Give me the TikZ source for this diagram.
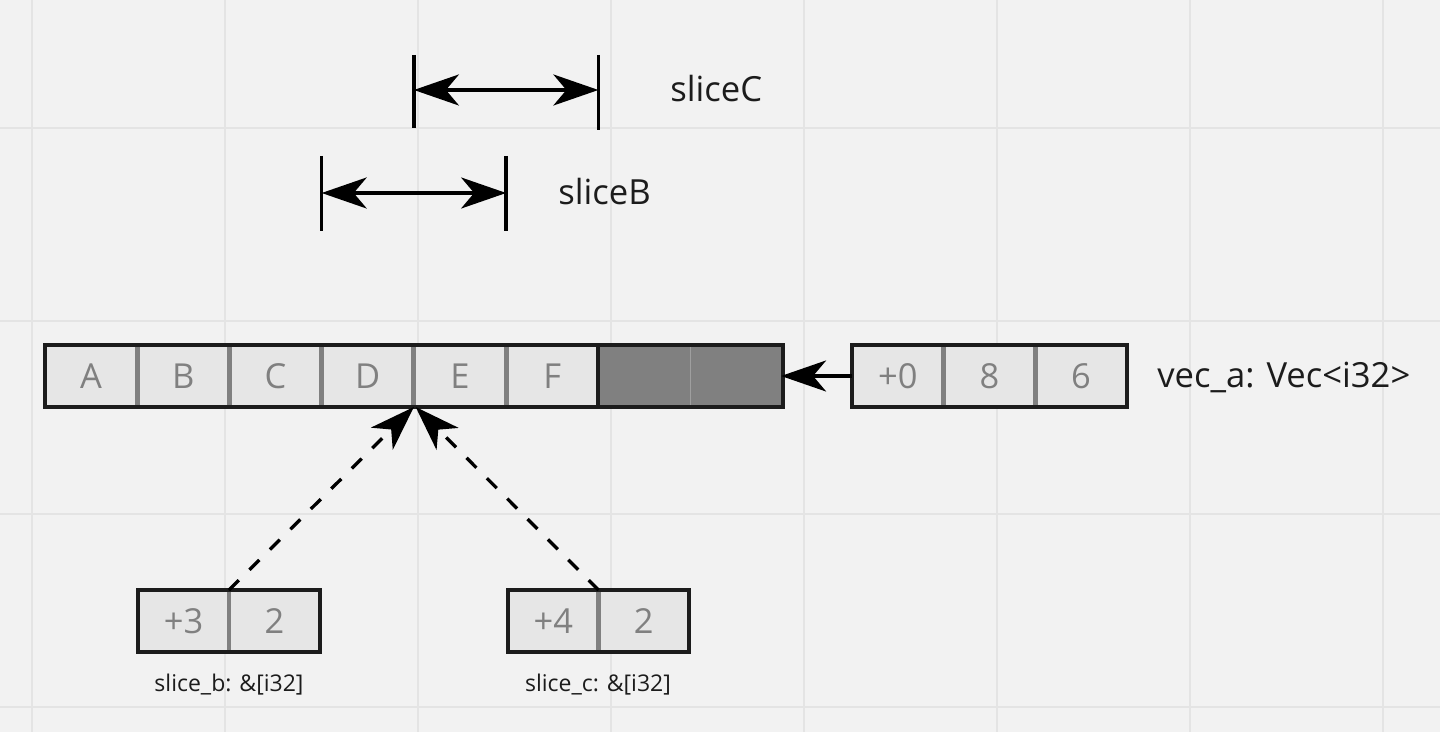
\documentclass[tikz,border=0pt]{standalone}
\usepackage{fontspec}
\setmainfont{Open Sans}
\usetikzlibrary{arrows.meta,positioning}

\definecolor{bgcol}{HTML}{F2F2F2}
\definecolor{gridcol}{HTML}{E4E4E4}
\definecolor{cellfill}{HTML}{E6E6E6}
\definecolor{sepcol}{HTML}{808080}
\definecolor{inkcol}{HTML}{1C1C1C}

\tikzset{
  gridline/.style={draw=gridcol,line width=1.1pt},
  cell/.style={fill=cellfill,text=sepcol,minimum width=1.845cm,minimum height=1.24cm,
    inner sep=0pt,outer sep=0pt,font=\fontsize{19.6}{23}\selectfont},
  spare/.style={cell,fill=sepcol},
  sepline/.style={draw=sepcol,line width=2.8pt},
  frame/.style={draw=inkcol,line width=2.2pt},
  bar/.style={draw=black,line width=1.9pt},
  span/.style={draw=black,line width=1.9pt,{Stealth[length=0.9cm,width=0.62cm,inset=0.26cm]}-{Stealth[length=0.9cm,width=0.62cm,inset=0.26cm]}},
  ptr/.style={draw=black,line width=1.9pt,-{Stealth[length=0.9cm,width=0.62cm,inset=0.26cm]}},
  vlabel/.style={anchor=west,inner sep=0pt,text=inkcol,font=\fontsize{19.7}{23}\selectfont},
  note/.style={inner sep=0pt,text=inkcol,font=\fontsize{13.1}{16}\selectfont}
}

\begin{document}
\begin{tikzpicture}[x=0.02cm,y=-0.02cm]
    \path[use as bounding box,fill=bgcol] (0,0) rectangle (1440,732);
    \foreach \gx in {32,225,418,611,804,997,1190,1383}
        \draw[gridline] (\gx,0) -- (\gx,732);
    \foreach \gy in {128,321,514,707}
        \draw[gridline] (0,\gy) -- (1440,\gy);

    % vec_a buffer
    \node[cell] (vA) at (91.1,376) {A};
    \node[cell,right=0pt of vA] (vB) {B};
    \node[cell,right=0pt of vB] (vC) {C};
    \node[cell,right=0pt of vC] (vD) {D};
    \node[cell,right=0pt of vD] (vE) {E};
    \node[cell,right=0pt of vE] (vF) {F};
    \node[spare,right=0pt of vF] (vG) {};
    \node[spare,right=0pt of vG] (vH) {};
    \foreach \c in {A,B,C,D,E}
        \draw[sepline] (v\c.north east) -- (v\c.south east);
    \draw[draw=gray!75,line width=0.4pt] (vG.north east) -- (vG.south east);
    \draw[frame] (vF.north east) -- (vF.south east);
    \draw[frame] (vA.north west) rectangle (vH.south east);

    % vec_a header
    \node[cell,minimum width=1.833cm] (h0) at (897.8,376) {+0};
    \node[cell,minimum width=1.833cm,right=0pt of h0] (h1) {8};
    \node[cell,minimum width=1.833cm,right=0pt of h1] (h2) {6};
    \draw[sepline] (h0.north east) -- (h0.south east);
    \draw[sepline] (h1.north east) -- (h1.south east);
    \draw[frame] (h0.north west) rectangle (h2.south east);
    \node[vlabel] (lv) at (1157,377) {vec\_a: Vec<i32>};
    \draw[ptr,shorten >=-1pt] (h0.west) -- (vH.east);

    % slice_b and slice_c
    \node[cell,minimum width=1.82cm] (b0) at (183.5,621) {+3};
    \node[cell,minimum width=1.82cm,right=0pt of b0] (b1) {2};
    \draw[sepline] (b0.north east) -- (b0.south east);
    \draw[frame] (b0.north west) rectangle (b1.south east);
    \node[note] (lb) at (229,685) {slice\_b: \&[i32]};

    \node[cell,minimum width=1.81cm] (c0) at (553.3,621) {+4};
    \node[cell,minimum width=1.81cm,right=0pt of c0] (c1) {2};
    \draw[sepline] (c0.north east) -- (c0.south east);
    \draw[frame] (c0.north west) rectangle (c1.south east);
    \node[note] (lc) at (598,685) {slice\_c: \&[i32]};

    \draw[ptr,dash pattern=on 7.9pt off 8.5pt] (b0.north east) -- (vD.south east);
    \draw[ptr,dash pattern=on 7.9pt off 8.5pt] (c0.north east) -- ([xshift=1pt]vE.south west);

    % spans
    \coordinate (cL) at (vE.west |- 0,90);
    \coordinate (cR) at (vF.east |- 0,90);
    \draw[bar] (vE.west |- 0,55) -- (vE.west |- 0,128);
    \draw[bar] (vF.east |- 0,55) -- (vF.east |- 0,130);
    \draw[span] (cL) -- (cR);
    \node[vlabel] (sc) at (670,89) {sliceC};

    \coordinate (bL) at (vD.west |- 0,193);
    \coordinate (bR) at (vE.east |- 0,193);
    \draw[bar] (vD.west |- 0,156) -- (vD.west |- 0,231);
    \draw[bar] (vE.east |- 0,156) -- (vE.east |- 0,231);
    \draw[span] (bL) -- (bR);
    \node[vlabel] (sb) at (558,192) {sliceB};
\end{tikzpicture}
\end{document}
